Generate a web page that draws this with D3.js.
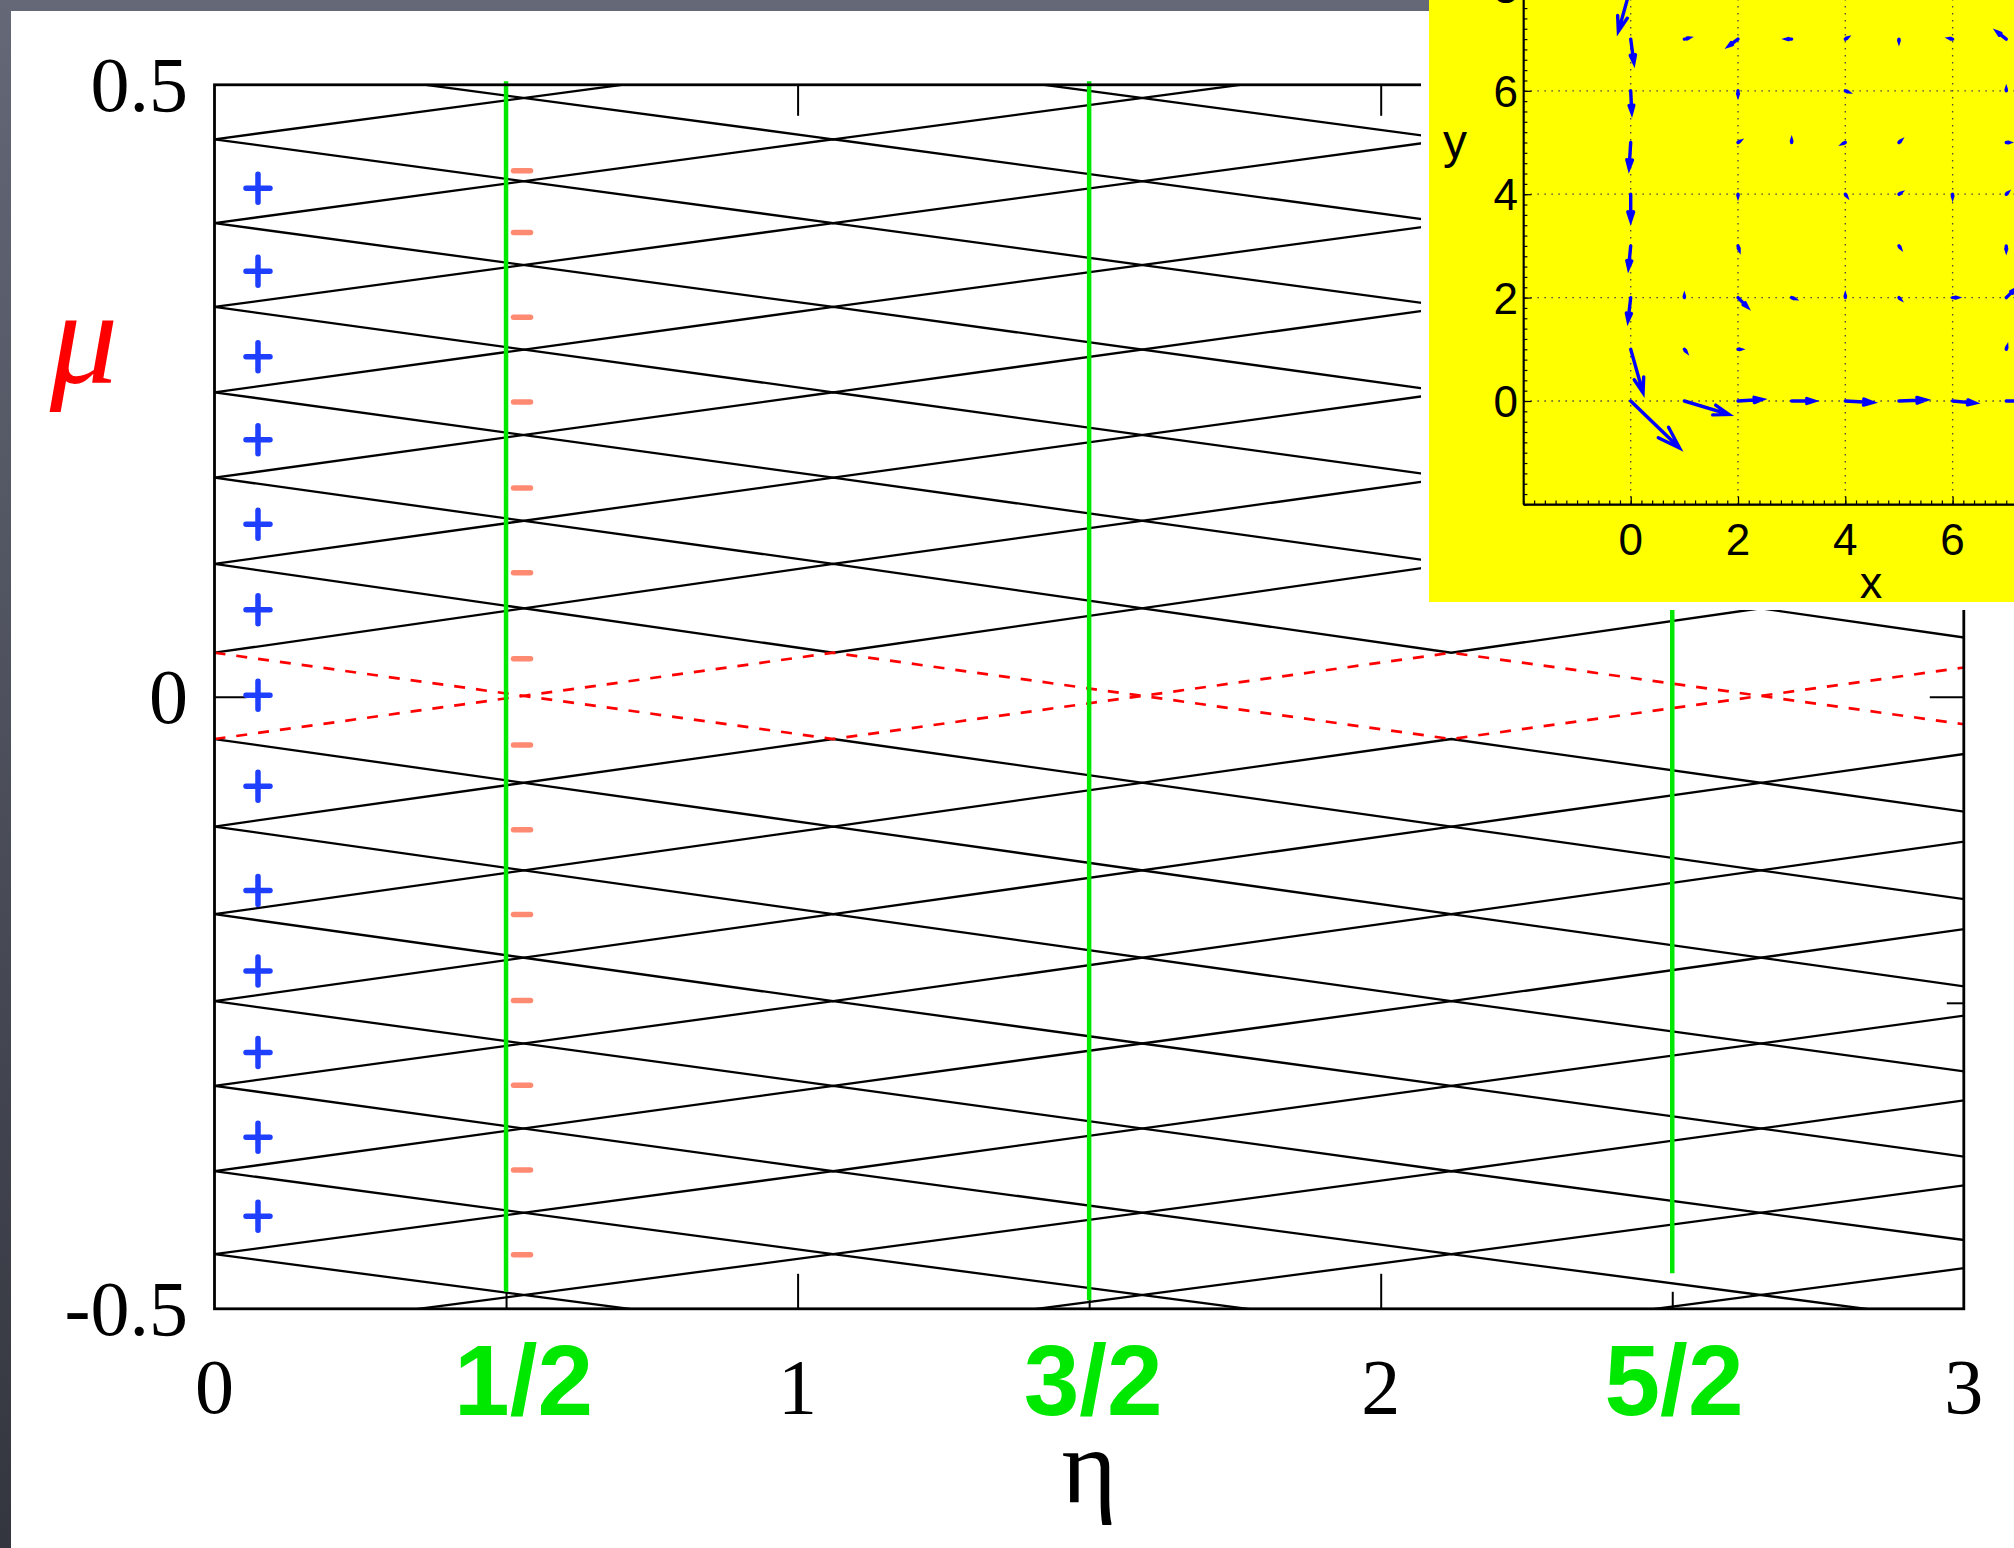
<!DOCTYPE html>
<html><head><meta charset="utf-8">
<script src="https://cdn.jsdelivr.net/npm/d3@7"></script>
<style>html,body{margin:0;padding:0;background:#4a4e5a;}svg{display:block}</style>
</head><body>
<svg id="chart" width="2014" height="1548"></svg>
<script>
// ---------------- data ----------------
// mu levels where the zig-zag branches touch (at the vertex eta positions)
const levels = [0.523, 0.4555, 0.387, 0.3185, 0.2488, 0.179, 0.1086, 0.036,
                -0.0345, -0.106, -0.1776, -0.2487, -0.3178, -0.3876, -0.4554, -0.522];
// eta positions of the touching points (last one lies just outside the axes)
const vertexEta = [0, 1.061, 2.121, 3.182];
// half-integer markers
const halfEta = [0.5, 1.5, 2.5];
const halfLabels = ["1/2", "3/2", "5/2"];
const halfLabelEta = [0.53, 1.507, 2.503];
const halfLineTop = [0.503, 0.503, 0.503];
const halfLineBottom = [-0.486, -0.493, -0.471];
// axis ticks
const xTicks = [0, 1, 2, 3];
const xTickLabels = ["0", "1", "2", "3"];
const yTicks = [0.5, 0, -0.5];
const yTickLabels = ["0.5", "0", "-0.5"];
// sign annotations
const plusEta = 0.0746;
const plusMu = [0.4154, 0.3476, 0.2779, 0.21, 0.1409, 0.0711, 0.0013,
                -0.073, -0.1582, -0.2241, -0.2907, -0.3598, -0.4243];
const minusEta = 0.5274;
const minusMu = [0.4297, 0.3793, 0.3101, 0.2408, 0.1705, 0.1013, 0.031,
                 -0.0393, -0.1086, -0.1779, -0.2482, -0.3174, -0.3867, -0.4559];
// inset quiver plot
const insetXTicks = [0, 2, 4, 6];
const insetYTicks = [0, 2, 4, 6, 8];
const arrowX = [0, 0, 0, 0, 0, 0, 0, 0, 0,   1, 2, 3, 4, 5, 6, 7,
                1, 2, 3, 4, 5, 6, 7,  2, 4, 7,  2, 3, 4, 5, 7,  2, 4, 5, 6, 7,
                2, 5, 7,  1, 2, 3, 4, 5, 6, 7,  1, 2, 7];
const arrowY = [8, 7, 6, 5, 4, 3, 2, 1, 0,   0, 0, 0, 0, 0, 0, 0,
                7, 7, 7, 7, 7, 7, 7,  6, 6, 6,  5, 5, 5, 5, 5,  4, 4, 4, 4, 4,
                3, 3, 3,  2, 2, 2, 2, 2, 2, 2,  1, 1, 1];
const arrowU = [-0.23, 0.06, 0.02, -0.03, 0.0, -0.04, -0.05, 0.23, 0.91,   0.83, 0.45, 0.42, 0.51, 0.50, 0.42, 0.45,
                0.08, -0.17, -0.09, 0.03, 0.0, -0.05, -0.17,  0.0, 0.05, 0.0,  0.03, 0.0, -0.04, 0.03, 0.05,
                0.0, 0.02, 0.03, 0.0, 0.02,  0.02, 0.02, 0.0,  0.0, 0.17, 0.05, 0.0, 0.02, 0.08, 0.15,
                0.03, 0.04, 0.01];
const arrowV = [-0.85, -0.46, -0.42, -0.50, -0.51, -0.43, -0.45, -0.84, -0.91,   -0.26, 0.03, 0.0, -0.03, 0.02, -0.04, 0.0,
                0.02, -0.13, 0.0, 0.02, -0.04, 0.01, 0.14,  -0.08, -0.02, 0.03,  0.02, 0.04, -0.02, 0.03, 0.0,
                -0.03, -0.03, 0.02, -0.05, 0.02,  -0.07, -0.03, -0.08,  0.03, -0.18, -0.02, 0.04, -0.02, 0.0, 0.15,
                -0.04, 0.0, 0.04];

// ---------------- drawing ----------------
const W = 2014, H = 1548;
const svg = d3.select("#chart");
const defs = svg.append("defs");
const grad = defs.append("linearGradient").attr("id", "bg")
  .attr("x1", 0).attr("y1", 0).attr("x2", 0).attr("y2", 1);
grad.append("stop").attr("offset", "0%").attr("stop-color", "#646877");
grad.append("stop").attr("offset", "100%").attr("stop-color", "#33363e");
svg.append("rect").attr("width", W).attr("height", H).attr("fill", "url(#bg)");
svg.append("rect").attr("x", 11).attr("y", 11).attr("width", W - 11).attr("height", H - 11).attr("fill", "#fff");

const x = d3.scaleLinear().domain([0, 3]).range([214.5, 1963.8]);
const y = d3.scaleLinear().domain([-0.5, 0.5]).range([1308.8, 84.8]);

defs.append("clipPath").attr("id", "plotclip").append("rect")
  .attr("x", x(0)).attr("y", y(0.5)).attr("width", x(3) - x(0)).attr("height", y(-0.5) - y(0.5));

const line = d3.line().x(d => x(d[0])).y(d => y(d[1]));
const gLines = svg.append("g").attr("clip-path", "url(#plotclip)");

const bands = d3.range(levels.length - 1).map(i => ({ upper: levels[i], lower: levels[i + 1] }));
const isRed = b => b.upper > 0 && b.lower < 0;
const curves = [];
bands.forEach(b => {
  [0, 1].forEach(phase => {
    curves.push({ red: isRed(b), pts: vertexEta.map((e, j) => [e, ((j + phase) % 2 === 0) ? b.upper : b.lower]) });
  });
});
gLines.selectAll("path.blk").data(curves.filter(c => !c.red)).join("path")
  .attr("class", "blk").attr("d", c => line(c.pts))
  .attr("fill", "none").attr("stroke", "#000").attr("stroke-width", 2.3);
gLines.selectAll("path.red").data(curves.filter(c => c.red)).join("path")
  .attr("class", "red").attr("d", c => line(c.pts))
  .attr("fill", "none").attr("stroke", "#ff0000").attr("stroke-width", 2.7)
  .attr("stroke-dasharray", "11,11");

// axis ticks via d3 axes
function cleanAxis(g) { g.select(".domain").remove(); g.selectAll("line").attr("stroke", "#000").attr("stroke-width", 2); }
svg.append("g").attr("transform", `translate(0,${y(-0.5)})`)
  .call(d3.axisBottom(x).tickValues([1, 2]).tickSizeInner(-35).tickSizeOuter(0).tickFormat("")).call(cleanAxis);
svg.append("g").attr("transform", `translate(0,${y(-0.5)})`)
  .call(d3.axisBottom(x).tickValues(halfEta).tickSizeInner(-17).tickSizeOuter(0).tickFormat("")).call(cleanAxis);
svg.append("g").attr("transform", `translate(0,${y(0.5)})`)
  .call(d3.axisTop(x).tickValues([1, 2]).tickSizeInner(-31).tickSizeOuter(0).tickFormat("")).call(cleanAxis);
svg.append("g").attr("transform", `translate(${x(0)},0)`)
  .call(d3.axisLeft(y).tickValues([0]).tickSizeInner(-32).tickSizeOuter(0).tickFormat("")).call(cleanAxis);
svg.append("g").attr("transform", `translate(${x(3)},0)`)
  .call(d3.axisRight(y).tickValues([0]).tickSizeInner(-34).tickSizeOuter(0).tickFormat("")).call(cleanAxis);
svg.append("g").attr("transform", `translate(${x(3)},0)`)
  .call(d3.axisRight(y).tickValues([-0.25]).tickSizeInner(-17).tickSizeOuter(0).tickFormat("")).call(cleanAxis);

// green vertical lines
svg.selectAll("line.half").data(halfEta).join("line").attr("class", "half")
  .attr("x1", d => x(d)).attr("x2", d => x(d))
  .attr("y1", (d, i) => y(halfLineTop[i])).attr("y2", (d, i) => y(halfLineBottom[i]))
  .attr("stroke", "#00e800").attr("stroke-width", 4.5);

// frame
svg.append("rect").attr("x", x(0)).attr("y", y(0.5)).attr("width", x(3) - x(0)).attr("height", y(-0.5) - y(0.5))
  .attr("fill", "none").attr("stroke", "#000").attr("stroke-width", 2.8);

// tick labels
const serif = "'Liberation Serif','Times New Roman',Times,serif";
svg.selectAll("text.xt").data(xTicks).join("text").attr("class", "xt")
  .attr("x", d => x(d)).attr("y", 1413).attr("text-anchor", "middle")
  .attr("font-family", serif).attr("font-size", 78).attr("fill", "#000")
  .text((d, i) => xTickLabels[i]);
svg.selectAll("text.yt").data(yTicks).join("text").attr("class", "yt")
  .attr("x", 188).attr("y", d => y(d) + 26).attr("text-anchor", "end")
  .attr("font-family", serif).attr("font-size", 78).attr("fill", "#000")
  .text((d, i) => yTickLabels[i]);
svg.selectAll("text.ht").data(halfLabelEta).join("text").attr("class", "ht")
  .attr("x", d => x(d)).attr("y", 1415).attr("text-anchor", "middle")
  .attr("font-family", "'Comic Sans MS','Liberation Sans',Arial,sans-serif").attr("font-weight", "bold")
  .attr("font-size", 100).attr("fill", "#00e800")
  .text((d, i) => halfLabels[i]);

// axis titles
svg.append("text").attr("x", x(1.5)).attr("y", 1502).attr("text-anchor", "middle")
  .attr("font-family", serif).attr("font-size", 106).attr("fill", "#000").text("η");
svg.append("text").attr("x", 84).attr("y", 383).attr("text-anchor", "middle")
  .attr("font-family", serif).attr("font-style", "italic").attr("font-size", 136).attr("fill", "#ff0000").text("μ");

// + and - annotations
const gp = svg.append("g").attr("stroke", "#1f3fff").attr("stroke-width", 5.5).attr("stroke-linecap", "round");
gp.selectAll("path").data(plusMu).join("path")
  .attr("d", d => `M${x(plusEta) - 12},${y(d)}h24M${x(plusEta)},${y(d) - 14}v28`);
svg.append("g").attr("stroke", "#ff8a72").attr("stroke-width", 5.5).attr("stroke-linecap", "round")
  .selectAll("line").data(minusMu).join("line")
  .attr("x1", x(minusEta) - 8.5).attr("x2", x(minusEta) + 8.5)
  .attr("y1", d => y(d)).attr("y2", d => y(d));

// ---------------- inset quiver plot ----------------
svg.append("rect").attr("x", 1421).attr("y", 11).attr("width", W - 1421).attr("height", 610 - 11).attr("fill", "#fff");
svg.append("rect").attr("x", 1429).attr("y", 0).attr("width", W - 1429).attr("height", 602).attr("fill", "#ffff00");
defs.append("clipPath").attr("id", "insetclip").append("rect")
  .attr("x", 1429).attr("y", 0).attr("width", W - 1429).attr("height", 602);
const gi = svg.append("g").attr("clip-path", "url(#insetclip)");
const ix = d3.scaleLinear().domain([-2, 9]).range([1523.4, 1523.4 + 11 * 53.65]);
const iy = d3.scaleLinear().domain([-2, 8]).range([504.4, 504.4 - 10 * 51.7]);

// grid
gi.selectAll("line.gx").data(insetXTicks).join("line").attr("class", "gx")
  .attr("x1", d => ix(d)).attr("x2", d => ix(d)).attr("y1", iy(-2)).attr("y2", 0)
  .attr("stroke", "#444").attr("stroke-width", 1.3).attr("stroke-dasharray", "1.5,5.5");
gi.selectAll("line.gy").data(insetYTicks).join("line").attr("class", "gy")
  .attr("y1", d => iy(d)).attr("y2", d => iy(d)).attr("x1", ix(-2)).attr("x2", W)
  .attr("stroke", "#444").attr("stroke-width", 1.3).attr("stroke-dasharray", "1.5,5.5");

// axes
gi.append("g").attr("transform", `translate(0,${iy(-2)})`)
  .call(d3.axisBottom(ix).tickValues(insetXTicks).tickSizeInner(-8).tickSizeOuter(0).tickFormat(""));
gi.append("g").attr("transform", `translate(${ix(-2)},0)`)
  .call(d3.axisLeft(iy).tickValues(insetYTicks).tickSizeInner(-8).tickSizeOuter(0).tickFormat(""));
gi.append("g").attr("transform", `translate(0,${iy(-2)})`)
  .call(d3.axisBottom(ix).ticks(60).tickSizeInner(-4).tickSizeOuter(0).tickFormat(""))
  .call(g => g.select(".domain").remove());
gi.append("g").attr("transform", `translate(${ix(-2)},0)`)
  .call(d3.axisLeft(iy).ticks(50).tickSizeInner(-4).tickSizeOuter(0).tickFormat(""))
  .call(g => g.select(".domain").remove());
gi.selectAll(".domain").attr("stroke", "#000").attr("stroke-width", 1.6);
gi.selectAll(".tick line").attr("stroke", "#000").attr("stroke-width", 1.2);
gi.append("line").attr("x1", ix(-2)).attr("x2", W).attr("y1", iy(-2)).attr("y2", iy(-2)).attr("stroke", "#000").attr("stroke-width", 1.6);
gi.append("line").attr("x1", ix(-2)).attr("x2", ix(-2)).attr("y1", iy(-2)).attr("y2", 0).attr("stroke", "#000").attr("stroke-width", 1.6);

const sans = "'Liberation Sans',Arial,Helvetica,sans-serif";
gi.selectAll("text.ixt").data(insetXTicks).join("text").attr("class", "ixt")
  .attr("x", d => ix(d)).attr("y", 555).attr("text-anchor", "middle")
  .attr("font-family", sans).attr("font-size", 44).attr("fill", "#000").text(d => d);
gi.selectAll("text.iyt").data(insetYTicks).join("text").attr("class", "iyt")
  .attr("x", 1518).attr("y", d => iy(d) + 16).attr("text-anchor", "end")
  .attr("font-family", sans).attr("font-size", 44).attr("fill", "#000").text(d => d);
gi.append("text").attr("x", 1871).attr("y", 598).attr("text-anchor", "middle")
  .attr("font-family", sans).attr("font-size", 45).attr("fill", "#000").text("x");
gi.append("text").attr("x", 1455).attr("y", 158).attr("text-anchor", "middle")
  .attr("font-family", sans).attr("font-size", 48).attr("fill", "#000").text("y");

// quiver arrows (MATLAB style heads)
function arrowPath(x0, y0, u, v) {
  const px0 = ix(x0), py0 = iy(y0), px1 = ix(x0 + u), py1 = iy(y0 + v);
  const dx = px1 - px0, dy = py1 - py0, a = 0.33, b = 0.33;
  const h1 = [px1 - a * (dx + b * dy), py1 - a * (dy - b * dx)];
  const h2 = [px1 - a * (dx - b * dy), py1 - a * (dy + b * dx)];
  return `M${px0},${py0}L${px1},${py1}M${h1[0]},${h1[1]}L${px1},${py1}L${h2[0]},${h2[1]}`;
}
gi.selectAll("path.arrow").data(arrowX).join("path").attr("class", "arrow")
  .attr("d", (d, i) => arrowPath(arrowX[i], arrowY[i], arrowU[i], arrowV[i]))
  .attr("fill", "none").attr("stroke", "#0000ff").attr("stroke-width", 3.4)
  .attr("stroke-linecap", "round").attr("stroke-linejoin", "miter");
</script>
</body></html>
